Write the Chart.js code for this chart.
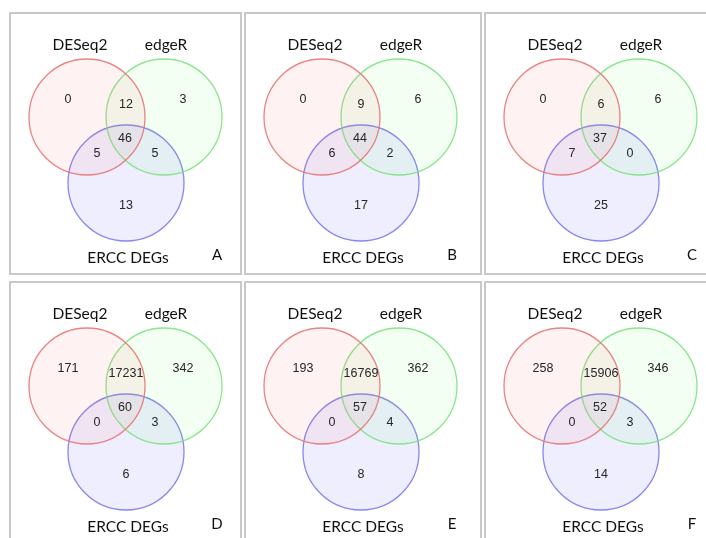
<!DOCTYPE html>
<html>
<head>
<meta charset="utf-8">
<script src="https://cdn.jsdelivr.net/npm/chart.js@4/dist/chart.umd.min.js"></script>
<style>
  html, body { margin: 0; padding: 0; background: #fff; width: 706px; height: 538px; overflow: hidden; }
  .frame { position: absolute; border: 2px solid #c8c8c8; box-sizing: border-box; }
  canvas { position: absolute; }
</style>
</head>
<body>
<script>
// ---- data ----
const setNames = ['DESeq2', 'edgeR', 'ERCC DEGs'];
const regions = ['DESeq2 only', 'DESeq2 & edgeR', 'edgeR only', 'all three', 'DESeq2 & ERCC', 'edgeR & ERCC', 'ERCC only'];
const panelLetters = ['A', 'B', 'C', 'D', 'E', 'F'];
const countsA = [0, 12, 3, 46, 5, 5, 13];
const countsB = [0, 9, 6, 44, 6, 2, 17];
const countsC = [0, 6, 6, 37, 7, 0, 25];
const countsD = [171, 17231, 342, 60, 0, 3, 6];
const countsE = [193, 16769, 362, 57, 0, 4, 8];
const countsF = [258, 15906, 346, 52, 0, 3, 14];
const allCounts = [countsA, countsB, countsC, countsD, countsE, countsF];

// ---- layout (pixel units inside each panel) ----
const panels = [
  { x: 9,   y: 12,  w: 233, h: 263 },
  { x: 244, y: 12,  w: 238, h: 263 },
  { x: 484, y: 12,  w: 230, h: 263 },
  { x: 9,   y: 281, w: 233, h: 270 },
  { x: 244, y: 281, w: 238, h: 270 },
  { x: 484, y: 281, w: 230, h: 270 }
];
const circleCenters = [[78, 105], [155, 105], [117, 171]];
const circleR = 58;
const regionPos = [[59, 88], [117, 93], [174, 88], [116, 127], [88, 142], [146, 142], [117, 194]];
const namePos = [[71, 33], [157, 33], [119, 246]];
const letterPos = [208, 243];
const strokeCols = ['rgba(232,110,110,0.85)', 'rgba(120,225,120,0.85)', 'rgba(115,115,235,0.85)'];
const fillCols = ['rgba(255,90,90,0.08)', 'rgba(90,255,90,0.07)', 'rgba(100,100,255,0.11)'];

const textPlugin = {
  id: 'vennText',
  afterDatasetsDraw(chart, args, opts) {
    const { ctx, scales: { x, y } } = chart;
    ctx.save();
    ctx.textAlign = 'center';
    ctx.textBaseline = 'middle';
    ctx.fillStyle = '#262626';
    ctx.font = '12.5px "Liberation Sans", Arial, sans-serif';
    opts.counts.forEach((v, i) => {
      ctx.fillText(String(v), x.getPixelForValue(regionPos[i][0]), y.getPixelForValue(regionPos[i][1]));
    });
    ctx.fillStyle = '#111';
    ctx.font = '15.5px Lato, "Open Sans", sans-serif';
    setNames.forEach((n, i) => {
      ctx.fillText(n, x.getPixelForValue(namePos[i][0]), y.getPixelForValue(namePos[i][1]));
    });
    ctx.font = '15px Lato, "Open Sans", sans-serif';
    ctx.fillText(opts.letter, x.getPixelForValue(letterPos[0]), y.getPixelForValue(letterPos[1]));
    ctx.restore();
  }
};

panels.forEach((p, k) => {
  const frame = document.createElement('div');
  frame.className = 'frame';
  Object.assign(frame.style, { left: p.x + 'px', top: p.y + 'px', width: p.w + 'px', height: p.h + 'px' });
  document.body.appendChild(frame);
  const cv = document.createElement('canvas');
  cv.width = p.w; cv.height = p.h;
  Object.assign(cv.style, { left: p.x + 'px', top: p.y + 'px', width: p.w + 'px', height: p.h + 'px' });
  document.body.appendChild(cv);

  const datasets = setNames.map((n, i) => ({
    label: n,
    data: [{ x: circleCenters[i][0], y: circleCenters[i][1] }],
    pointStyle: 'circle',
    pointRadius: (c) => c.chart.scales.x.getPixelForValue(circleR) - c.chart.scales.x.getPixelForValue(0),
    pointHoverRadius: (c) => c.chart.scales.x.getPixelForValue(circleR) - c.chart.scales.x.getPixelForValue(0),
    backgroundColor: fillCols[i],
    borderColor: strokeCols[i],
    borderWidth: 1.3,
    clip: false
  }));

  new Chart(cv, {
    type: 'scatter',
    data: { datasets },
    options: {
      responsive: false,
      animation: false,
      events: [],
      layout: { padding: 0 },
      plugins: { legend: { display: false }, tooltip: { enabled: false },
        vennText: { counts: allCounts[k], letter: panelLetters[k] } },
      scales: {
        x: { type: 'linear', min: 0, max: p.w, display: false },
        y: { type: 'linear', min: 0, max: p.h, reverse: true, display: false }
      }
    },
    plugins: [textPlugin]
  });
});
</script>
</body>
</html>
